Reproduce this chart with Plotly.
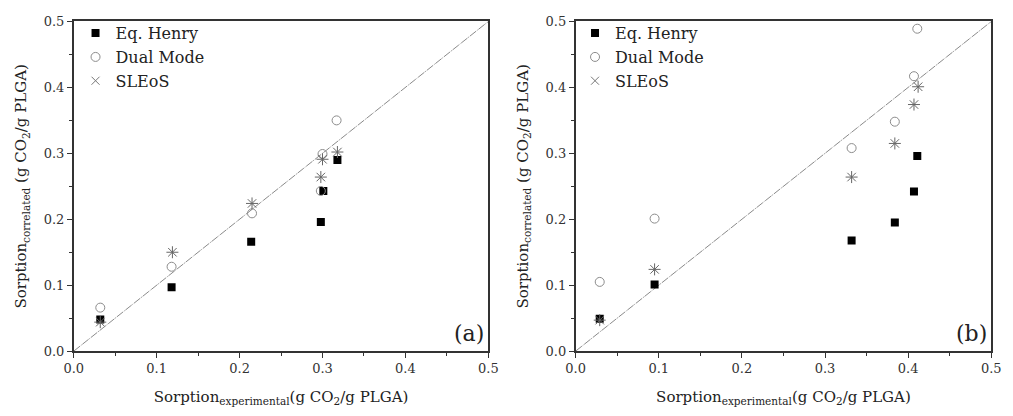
import plotly.graph_objects as go

# Panel (a)
a_henry_x = [0.032, 0.118, 0.214, 0.298, 0.301, 0.318]
a_henry_y = [0.048, 0.097, 0.166, 0.196, 0.243, 0.290]
a_dual_x = [0.032, 0.118, 0.215, 0.298, 0.300, 0.317]
a_dual_y = [0.066, 0.128, 0.209, 0.243, 0.299, 0.350]
a_sleos_x = [0.032, 0.119, 0.215, 0.298, 0.300, 0.318]
a_sleos_y = [0.044, 0.150, 0.224, 0.264, 0.291, 0.302]

# Panel (b)
b_henry_x = [0.029, 0.095, 0.332, 0.384, 0.407, 0.411]
b_henry_y = [0.049, 0.101, 0.168, 0.195, 0.242, 0.296]
b_dual_x = [0.029, 0.095, 0.332, 0.384, 0.407, 0.411]
b_dual_y = [0.105, 0.201, 0.308, 0.348, 0.417, 0.489]
b_sleos_x = [0.029, 0.095, 0.332, 0.384, 0.407, 0.412]
b_sleos_y = [0.047, 0.124, 0.264, 0.315, 0.374, 0.401]

diag = [0.0, 0.5]
ticks = [0.0, 0.1, 0.2, 0.3, 0.4, 0.5]
tick_text = ["0.0", "0.1", "0.2", "0.3", "0.4", "0.5"]
series_names = ["Eq. Henry", "Dual Mode", "SLEoS"]
panel_labels = ["(a)", "(b)"]

FONT = "DejaVu Serif"
AX_COLOR = "#333333"

fig = go.Figure()

panels = [
    (a_henry_x, a_henry_y, a_dual_x, a_dual_y, a_sleos_x, a_sleos_y, "x", "y", "legend"),
    (b_henry_x, b_henry_y, b_dual_x, b_dual_y, b_sleos_x, b_sleos_y, "x2", "y2", "legend2"),
]

for hx, hy, dx, dy, sx, sy, xa, ya, lg in panels:
    fig.add_trace(go.Scatter(
        x=diag, y=diag, mode="lines", xaxis=xa, yaxis=ya, showlegend=False,
        line=dict(color="#8a8a8a", width=1, dash="8px,1px,1px,1px"),
    ))
    fig.add_trace(go.Scatter(
        x=hx, y=hy, mode="markers", name=series_names[0], xaxis=xa, yaxis=ya, legend=lg,
        marker=dict(symbol="square", size=8, color="black"),
    ))
    fig.add_trace(go.Scatter(
        x=dx, y=dy, mode="markers", name=series_names[1], xaxis=xa, yaxis=ya, legend=lg,
        marker=dict(symbol="circle-open", size=9, color="#8c8c8c", line=dict(width=1)),
    ))
    fig.add_trace(go.Scatter(
        x=sx, y=sy, mode="markers", name=series_names[2], xaxis=xa, yaxis=ya,
        showlegend=False,
        marker=dict(symbol="asterisk-open", size=10, color="#666666", line=dict(width=1)),
    ))
    # legend entry for the SLEoS series uses a plain cross
    fig.add_trace(go.Scatter(
        x=[None], y=[None], mode="markers", name=series_names[2], xaxis=xa, yaxis=ya, legend=lg,
        marker=dict(symbol="x-thin-open", size=8, color="#777777", line=dict(width=1)),
    ))

axis_common = dict(
    range=[0, 0.5], tickvals=ticks, ticktext=tick_text,
    showline=True, linecolor=AX_COLOR, linewidth=1.5, mirror=True,
    ticks="outside", ticklen=5, tickwidth=1, tickcolor=AX_COLOR,
    minor=dict(ticks="outside", ticklen=3, dtick=0.05, tickcolor=AX_COLOR),
    showgrid=False, zeroline=False,
    tickfont=dict(family=FONT, size=13, color="#333333"),
)

xtitle = "Sorption<sub>experimental</sub>(g CO<sub>2</sub>/g PLGA)"
ytitle = "Sorption<sub>correlated</sub> (g CO<sub>2</sub>/g PLGA)"
title_font = dict(family=FONT, size=15, color="#222222")

fig.update_layout(
    width=1013, height=416,
    margin=dict(l=0, r=0, t=0, b=0),
    paper_bgcolor="white", plot_bgcolor="white",
    font=dict(family=FONT, color="#222222"),
    xaxis=dict(axis_common, domain=[0.0642, 0.4817], anchor="y",
               title=dict(text=xtitle, font=title_font, standoff=16)),
    yaxis=dict(axis_common, domain=[0.1418, 0.9639], anchor="x",
               title=dict(text=ytitle, font=title_font, standoff=13)),
    xaxis2=dict(axis_common, domain=[0.5696, 0.9882], anchor="y2",
                title=dict(text=xtitle, font=title_font, standoff=16)),
    yaxis2=dict(axis_common, domain=[0.1418, 0.9639], anchor="x2",
                title=dict(text=ytitle, font=title_font, standoff=13)),
    legend=dict(x=0.066, y=0.977, xanchor="left", yanchor="top",
                bgcolor="rgba(0,0,0,0)", tracegroupgap=0, itemwidth=30,
                font=dict(family=FONT, size=16, color="#222222")),
    legend2=dict(x=0.569, y=0.977, xanchor="left", yanchor="top",
                 bgcolor="rgba(0,0,0,0)", tracegroupgap=0, itemwidth=30,
                 font=dict(family=FONT, size=16, color="#222222")),
)

for i, (xa, ya) in enumerate([("x", "y"), ("x2", "y2")]):
    fig.add_annotation(
        text=panel_labels[i], xref=f"{xa} domain", yref=f"{ya} domain",
        x=0.995, y=0.01, xanchor="right", yanchor="bottom", showarrow=False,
        font=dict(family=FONT, size=22, color="#222222"),
    )

fig.write_html("out.html")
